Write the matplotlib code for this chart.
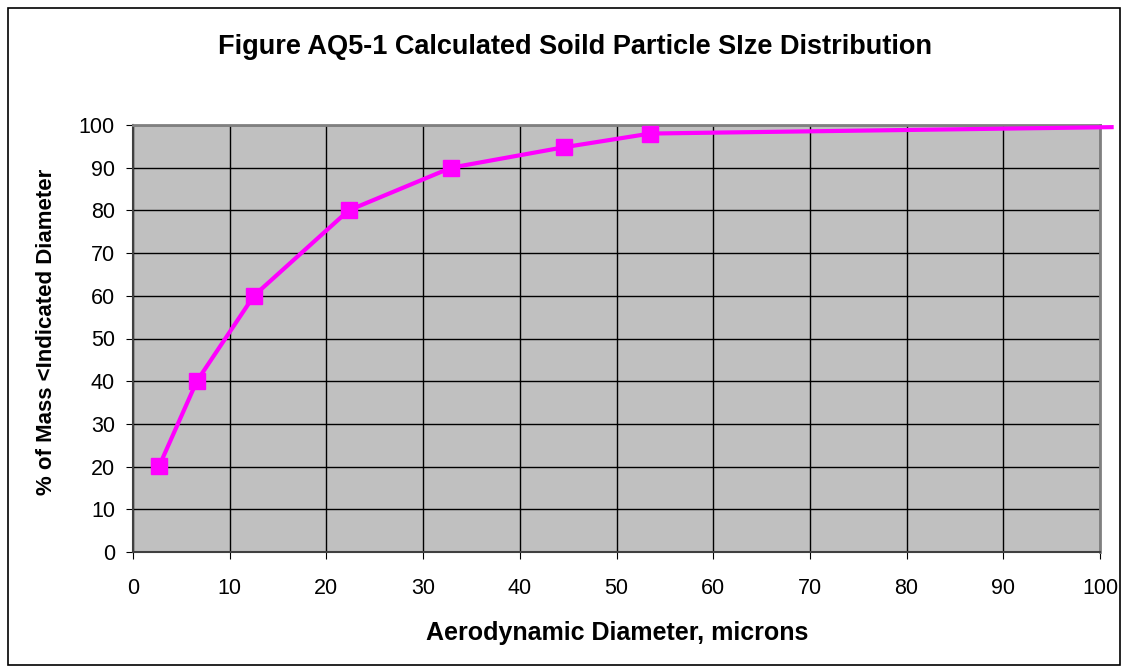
import matplotlib
matplotlib.use("Agg")
import matplotlib.pyplot as plt
from matplotlib.patches import Rectangle

diameter = [2.7, 6.6, 12.5, 22.3, 32.9, 44.6, 53.5, 101.2]
percent = [20.1, 40.0, 60.0, 80.0, 90.0, 94.8, 98.0, 99.5]
marker_flags = [True, True, True, True, True, True, True, False]

plt.rcParams['font.family'] = ['Liberation Sans', 'DejaVu Sans']

fig = plt.figure(figsize=(11.28, 6.69), dpi=100)
fig.patches.append(Rectangle((8/1128, 4/669), 1112/1128, 657/669, transform=fig.transFigure,
                             fill=False, edgecolor='black', linewidth=1.2))
ax = fig.add_axes([133/1128, 1-552/669, (1100-133)/1128, (552-125)/669])
ax.set_facecolor('#C0C0C0')
ax.set_xlim(0, 100)
ax.set_ylim(0, 100)
ax.set_xticks(range(0, 101, 10))
ax.set_yticks(range(0, 101, 10))
ax.grid(True, color='black', linewidth=1.0)
ax.set_axisbelow(True)
for s in ['top', 'right']:
    ax.spines[s].set_color('#808080')
    ax.spines[s].set_linewidth(2)
for s in ['bottom', 'left']:
    ax.spines[s].set_color('#404040')
    ax.spines[s].set_linewidth(1.5)
ax.tick_params(labelsize=15.5, length=5, direction='out', colors='black')
ax.tick_params(axis='x', pad=13.5)
ax.tick_params(axis='y', pad=8)

ax.plot(diameter, percent, color='#FF00FF', linewidth=3, clip_on=False, zorder=3)
mx = [d for d, f in zip(diameter, marker_flags) if f]
my = [p for p, f in zip(percent, marker_flags) if f]
ax.plot(mx, my, linestyle='none', marker='s', markersize=12, color='#FF00FF', zorder=4, clip_on=False)

fig.text(617/1128, 1-633/669, 'Aerodynamic Diameter, microns', ha='center', va='center',
         fontsize=18, fontweight='bold')
fig.text(47/1128, 1-332/669, '% of Mass <Indicated Diameter', ha='center', va='center',
         rotation=90, fontsize=16, fontweight='bold')
fig.text(575/1128, 1-47/669, 'Figure AQ5-1 Calculated Soild Particle SIze Distribution',
         ha='center', va='center', fontsize=19.5, fontweight='bold')

fig.savefig('out.png', dpi=100)
